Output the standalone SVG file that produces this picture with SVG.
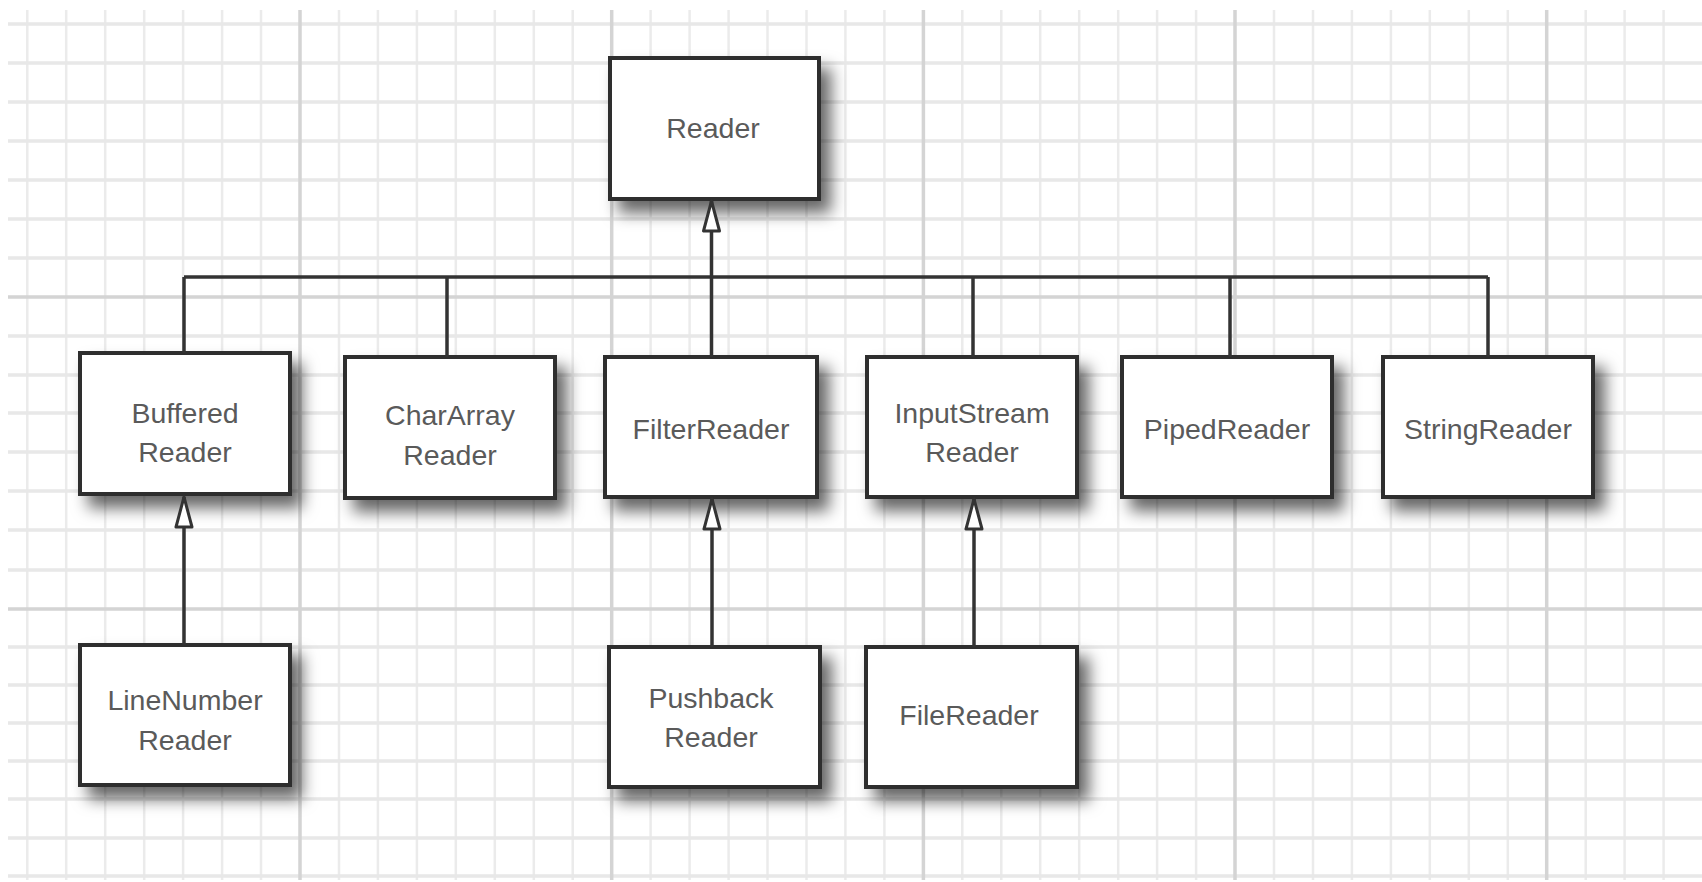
<svg xmlns="http://www.w3.org/2000/svg" width="1702" height="882" viewBox="0 0 1702 882">
<style>
.gmin{stroke:#ebebeb;stroke-width:2.5;fill:none}
.gminh{stroke:#e8e8e8;stroke-width:3.5;fill:none}
.gmaj{stroke:#d4d4d4;stroke-width:3.5;fill:none}
.box{fill:#ffffff;stroke:#2f2f2f;stroke-width:4;filter:url(#shadow)}
.lbl{font-family:"Liberation Sans",Arial,sans-serif;font-size:28.5px;fill:#5a5a5a;text-anchor:middle}
.conn{stroke:#333333;stroke-width:3.5;fill:none}
</style>
<defs>
<filter id="shadow" x="-25%" y="-25%" width="160%" height="170%">
<feDropShadow dx="10" dy="12" stdDeviation="8" flood-color="#000000" flood-opacity="0.6"/>
</filter>
<marker id="tri" viewBox="-2 -2 34 24" refX="30" refY="10" markerWidth="34" markerHeight="24" markerUnits="userSpaceOnUse" orient="auto" overflow="visible">
<path d="M30,10 L0,2 L0,18 Z" fill="#ffffff" stroke="#333333" stroke-width="3" stroke-linejoin="round"/>
</marker>
</defs>
<rect x="0" y="0" width="1702" height="882" fill="#ffffff"/>
<g id="grid">
<path class="gmin" d="M27.3 10V880M66.2 10V880M105.2 10V880M144.2 10V880M183.1 10V880M222.1 10V880M261 10V880M339 10V880M377.9 10V880M416.9 10V880M455.8 10V880M494.8 10V880M533.8 10V880M572.7 10V880M650.6 10V880M689.6 10V880M728.6 10V880M767.5 10V880M806.5 10V880M845.4 10V880M884.4 10V880M962.3 10V880M1001.3 10V880M1040.2 10V880M1079.2 10V880M1118.2 10V880M1157.1 10V880M1196.1 10V880M1274 10V880M1313 10V880M1351.9 10V880M1390.9 10V880M1429.8 10V880M1468.8 10V880M1507.8 10V880M1585.7 10V880M1624.6 10V880M1663.6 10V880"/>
<path class="gminh" d="M8 24H1702M8 63H1702M8 102H1702M8 141H1702M8 180H1702M8 219H1702M8 258H1702M8 336H1702M8 375H1702M8 413H1702M8 452H1702M8 491H1702M8 530H1702M8 570H1702M8 647H1702M8 685H1702M8 723H1702M8 761H1702M8 799H1702M8 838H1702M8 876H1702"/>
<path class="gmaj" d="M300 10V880M611.7 10V880M923.4 10V880M1235 10V880M1546.7 10V880M8 297H1702M8 609H1702"/>
</g>
<g id="node-reader">
<rect class="box" x="610" y="58" width="209" height="141"/>
<text class="lbl" x="713" y="138">Reader</text>
</g>
<g id="node-buffered">
<rect class="box" x="80" y="353" width="210" height="141"/>
<text class="lbl" x="185" y="423">Buffered</text>
<text class="lbl" x="185" y="462">Reader</text>
</g>
<g id="node-chararray">
<rect class="box" x="345" y="357" width="210" height="141"/>
<text class="lbl" x="450" y="425">CharArray</text>
<text class="lbl" x="450" y="465">Reader</text>
</g>
<g id="node-filter">
<rect class="box" x="605" y="357" width="212" height="140"/>
<text class="lbl" x="711" y="439">FilterReader</text>
</g>
<g id="node-inputstream">
<rect class="box" x="867" y="357" width="210" height="140"/>
<text class="lbl" x="972" y="423">InputStream</text>
<text class="lbl" x="972" y="462">Reader</text>
</g>
<g id="node-piped">
<rect class="box" x="1122" y="357" width="210" height="140"/>
<text class="lbl" x="1227" y="439">PipedReader</text>
</g>
<g id="node-string">
<rect class="box" x="1383" y="357" width="210" height="140"/>
<text class="lbl" x="1488" y="439">StringReader</text>
</g>
<g id="node-linenumber">
<rect class="box" x="80" y="645" width="210" height="140"/>
<text class="lbl" x="185" y="710">LineNumber</text>
<text class="lbl" x="185" y="750">Reader</text>
</g>
<g id="node-pushback">
<rect class="box" x="609" y="647" width="211" height="140"/>
<text class="lbl" x="711" y="708">Pushback</text>
<text class="lbl" x="711" y="747">Reader</text>
</g>
<g id="node-filereader">
<rect class="box" x="866" y="647" width="211" height="140"/>
<text class="lbl" x="969" y="725">FileReader</text>
</g>
<g id="connectors">
<path class="conn" d="M184 277H1488"/>
<path class="conn" d="M184 277V353"/>
<path class="conn" d="M447 277V357"/>
<path class="conn" d="M973 277V357"/>
<path class="conn" d="M1230 277V357"/>
<path class="conn" d="M1488 277V357"/>
<path class="conn" d="M711.5 357V201" marker-end="url(#tri)"/>
<path class="conn" d="M184 645V497" marker-end="url(#tri)"/>
<path class="conn" d="M712 647V499" marker-end="url(#tri)"/>
<path class="conn" d="M974 647V499" marker-end="url(#tri)"/>
</g>
</svg>
